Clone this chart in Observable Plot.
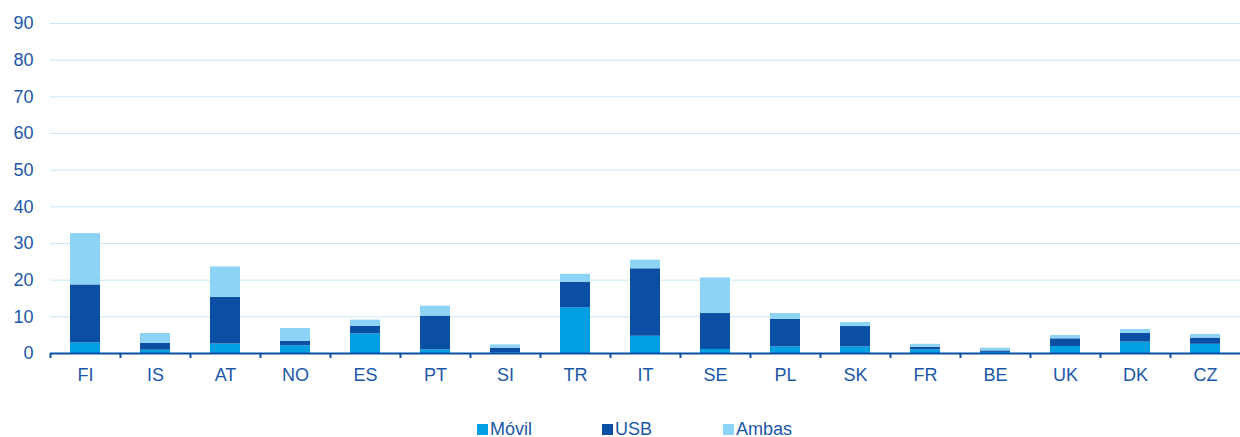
<!DOCTYPE html>
<html>
<head>
<meta charset="utf-8">
<script src="https://cdn.jsdelivr.net/npm/d3@7"></script>
<script src="https://cdn.jsdelivr.net/npm/@observablehq/plot@0.6"></script>
<style>
  html, body { margin: 0; padding: 0; background: #fff; }
  body { width: 1240px; height: 437px; position: relative; overflow: hidden; font-family: "Liberation Sans", Arial, sans-serif; }
  #legend { position: absolute; top: 420px; left: 0; width: 1240px; height: 18px; font-size: 18px; color: #1B57A8; }
  .item { position: absolute; top: 0; display: flex; align-items: center; line-height: 18px; }
  .sw { width: 11px; height: 11px; margin-right: 2px; }
</style>
</head>
<body>
<div id="chart"></div>
<div id="legend"></div>
<script>
const countries = ["FI","IS","AT","NO","ES","PT","SI","TR","IT","SE","PL","SK","FR","BE","UK","DK","CZ"];
const movil = [2.9, 0.9, 2.6, 2.1, 5.35, 1.0, 0.2, 12.5, 4.7, 1.1, 1.8, 1.8, 1.0, 0.3, 1.9, 3.1, 2.5];
const usb   = [15.8, 1.9, 12.7, 1.2, 2.05, 9.2, 1.25, 6.95, 18.4, 9.8, 7.5, 5.55, 0.7, 0.4, 2.1, 2.35, 1.7];
const ambas = [14.0, 2.65, 8.3, 3.5, 1.7, 2.7, 0.9, 2.15, 2.35, 9.7, 1.6, 1.1, 0.8, 0.75, 0.9, 1.1, 1.0];
const seriesNames = ["Móvil", "USB", "Ambas"];
const seriesColors = ["#009FE3", "#0A4FA3", "#8DD3F5"];
const yTicks = [0, 10, 20, 30, 40, 50, 60, 70, 80, 90];

const data = [];
countries.forEach((c, i) => {
  data.push({country: c, serie: "Móvil", value: movil[i]});
  data.push({country: c, serie: "USB", value: usb[i]});
  data.push({country: c, serie: "Ambas", value: ambas[i]});
});

const W = 1240, H = 400, ML = 50, MR = 0, MT = 23, MB = 47;
const band = (W - ML - MR) / countries.length;
const textColor = "#1B57A8";

const chart = Plot.plot({
  width: W,
  height: H,
  marginLeft: ML,
  marginRight: MR,
  marginTop: MT,
  marginBottom: MB,
  style: {fontFamily: "'Liberation Sans', Arial, sans-serif", fontSize: "18px", color: textColor, background: "#fff"},
  x: {domain: countries, padding: 0, label: null},
  y: {domain: [0, 90], ticks: yTicks, label: null},
  color: {domain: seriesNames, range: seriesColors},
  marks: [
    Plot.gridY(yTicks.filter(d => d > 0), {stroke: "#C9E7F6", strokeOpacity: 1, strokeWidth: 1}),
    Plot.axisY({ticks: yTicks, tickSize: 0, tickPadding: 17, fill: textColor, fontSize: 18, label: null}),
    Plot.barY(data, Plot.stackY({
      x: "country", y: "value", fill: "serie", order: seriesNames,
      insetLeft: 20, insetRight: 20
    })),
    Plot.ruleY([0], {stroke: "#0A4FA3", strokeWidth: 2}),
    Plot.ruleX(countries, {x: d => d, dx: -band / 2, y1: 0, y2: 0, insetBottom: -5, stroke: "#0A4FA3", strokeWidth: 2}),
    Plot.axisX({tickSize: 0, tickPadding: 15, fill: textColor, fontSize: 18, label: null})
  ]
});
document.getElementById("chart").appendChild(chart);

const legend = document.getElementById("legend");
const legendLeft = [477, 602, 723];
seriesNames.forEach((n, i) => {
  const it = document.createElement("div");
  it.className = "item";
  it.style.left = legendLeft[i] + "px";
  const sw = document.createElement("div");
  sw.className = "sw";
  sw.style.background = seriesColors[i];
  const tx = document.createElement("span");
  tx.textContent = n;
  it.appendChild(sw);
  it.appendChild(tx);
  legend.appendChild(it);
});
</script>
</body>
</html>
